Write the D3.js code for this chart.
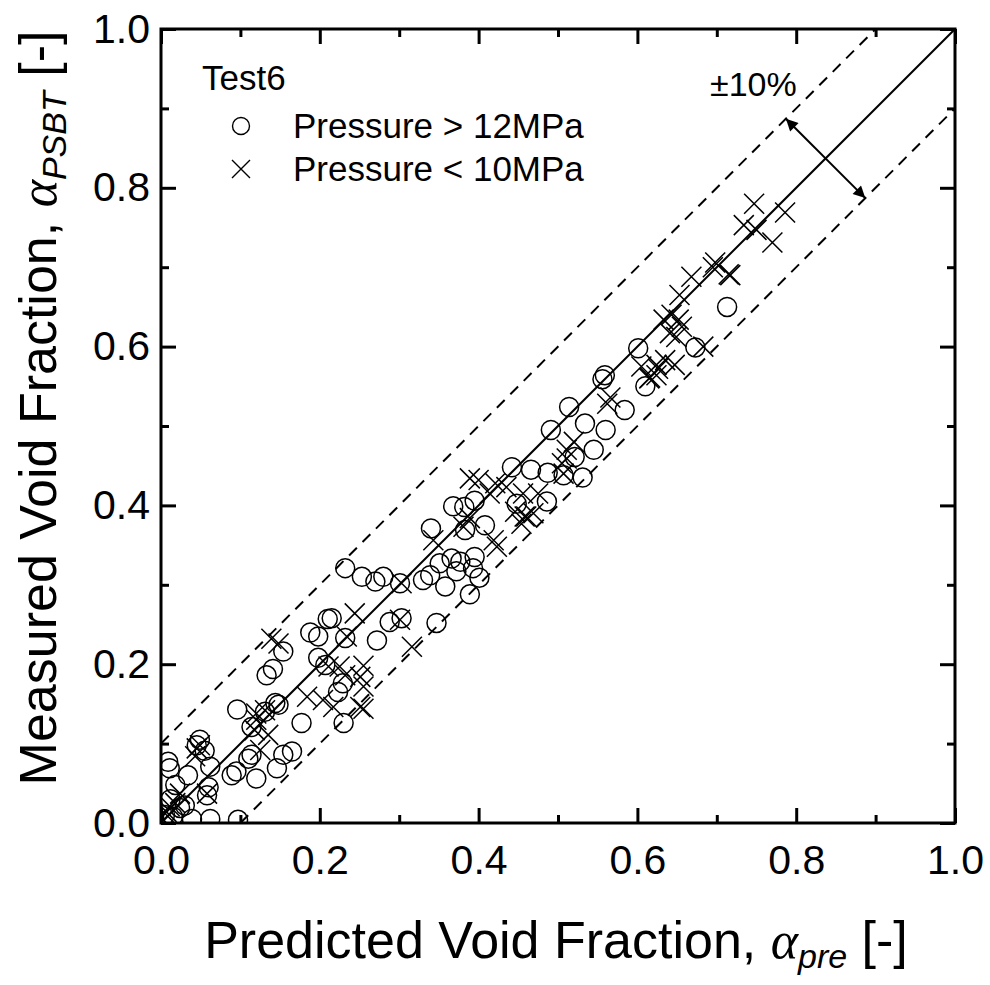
<!DOCTYPE html>
<html>
<head>
<meta charset="utf-8">
<script src="https://cdn.jsdelivr.net/npm/d3@7"></script>
<style>
  body { margin: 0; background: #fff; }
  text { font-family: Arial, "Liberation Sans", sans-serif; fill: #000; }
</style>
</head>
<body>
<div id="chart"></div>
<script>
// Test6 : [predicted, measured]
const highPressure = [
  [0.713,0.650],[0.601,0.598],[0.673,0.599],[0.559,0.564],[0.556,0.559],[0.610,0.550],
  [0.514,0.524],[0.584,0.520],[0.534,0.503],[0.491,0.495],[0.560,0.495],[0.545,0.470],
  [0.521,0.461],[0.466,0.445],[0.442,0.448],[0.487,0.441],[0.507,0.438],[0.531,0.435],
  [0.448,0.402],[0.486,0.405],[0.395,0.406],[0.368,0.399],[0.408,0.375],[0.382,0.398],
  [0.383,0.369],[0.340,0.371],[0.351,0.327],[0.366,0.333],[0.377,0.329],[0.395,0.335],
  [0.372,0.317],[0.393,0.321],[0.401,0.309],[0.358,0.298],[0.330,0.306],[0.339,0.312],
  [0.389,0.288],[0.232,0.321],[0.253,0.310],[0.270,0.304],[0.280,0.310],[0.301,0.302],
  [0.215,0.258],[0.288,0.253],[0.303,0.258],[0.347,0.252],[0.232,0.233],[0.272,0.230],
  [0.210,0.257],[0.188,0.240],[0.198,0.235],[0.154,0.216],[0.198,0.208],[0.141,0.194],
  [0.133,0.186],[0.223,0.165],[0.229,0.176],[0.207,0.199],[0.096,0.143],[0.131,0.140],
  [0.148,0.149],[0.144,0.151],[0.230,0.126],[0.177,0.126],[0.114,0.121],[0.049,0.105],
  [0.045,0.098],[0.055,0.091],[0.165,0.090],[0.154,0.086],[0.114,0.086],[0.146,0.069],
  [0.120,0.056],[0.110,0.081],[0.095,0.065],[0.089,0.060],[0.062,0.071],[0.034,0.060],
  [0.011,0.069],[0.009,0.077],[0.018,0.048],[0.060,0.045],[0.058,0.035],[0.024,0.019],
  [0.097,0.004],[0.062,0.005],[0.039,0.005],[0.012,0.030],[0.005,0.010],[0.015,0.008],
  [0.030,0.022]
];
const lowPressure = [
  [0.747,0.780],[0.786,0.769],[0.734,0.753],[0.750,0.747],[0.770,0.731],[0.698,0.706],
  [0.715,0.691],[0.668,0.688],[0.695,0.700],[0.717,0.690],[0.653,0.665],[0.643,0.640],
  [0.652,0.634],[0.656,0.625],[0.633,0.634],[0.641,0.617],[0.649,0.612],[0.635,0.583],
  [0.647,0.577],[0.624,0.577],[0.683,0.600],[0.605,0.575],[0.616,0.561],[0.626,0.572],
  [0.624,0.564],[0.615,0.560],[0.566,0.536],[0.562,0.528],[0.520,0.480],[0.511,0.470],
  [0.505,0.453],[0.511,0.459],[0.507,0.440],[0.389,0.434],[0.421,0.428],[0.414,0.415],
  [0.475,0.415],[0.469,0.390],[0.454,0.377],[0.400,0.432],[0.435,0.423],[0.456,0.415],
  [0.446,0.392],[0.458,0.386],[0.460,0.386],[0.389,0.384],[0.419,0.356],[0.423,0.348],
  [0.343,0.356],[0.381,0.373],[0.303,0.302],[0.301,0.256],[0.244,0.264],[0.234,0.235],
  [0.139,0.232],[0.148,0.226],[0.211,0.197],[0.225,0.197],[0.232,0.186],[0.255,0.198],
  [0.251,0.184],[0.255,0.172],[0.184,0.159],[0.204,0.155],[0.217,0.146],[0.255,0.144],
  [0.251,0.146],[0.120,0.138],[0.131,0.142],[0.120,0.130],[0.118,0.117],[0.135,0.111],
  [0.125,0.092],[0.316,0.222],[0.049,0.098],[0.043,0.084],[0.045,0.094],[0.058,0.037],
  [0.024,0.037],[0.018,0.025],[0.011,0.021],[0.007,0.014],[0.005,0.012],[0.003,0.004]
];
const majorTicks = [0, 0.2, 0.4, 0.6, 0.8, 1.0];
const minorTicks = [0.1, 0.3, 0.5, 0.7, 0.9];
const bandPct = 0.1;
const legendLabels = ["Pressure > 12MPa", "Pressure < 10MPa"];

const width = 990, height = 985;
const x = d3.scaleLinear().domain([0, 1]).range([161, 955]);
const y = d3.scaleLinear().domain([0, 1]).range([823, 29]);

const svg = d3.select("#chart").append("svg")
    .attr("width", width).attr("height", height)
    .attr("viewBox", [0, 0, width, height]);

svg.append("clipPath").attr("id", "plotclip")
  .append("rect")
    .attr("x", x(0)).attr("y", y(1))
    .attr("width", x(1) - x(0)).attr("height", y(0) - y(1));

const plot = svg.append("g").attr("clip-path", "url(#plotclip)");

// reference lines
const line = d3.line().x(d => x(d[0])).y(d => y(d[1]));
plot.append("path")
    .attr("d", line([[0, 0], [1, 1]]))
    .attr("stroke", "#000").attr("stroke-width", 2).attr("fill", "none");
plot.append("path")
    .attr("d", line([[0, bandPct], [1 - bandPct, 1]]))
    .attr("stroke", "#000").attr("stroke-width", 2).attr("fill", "none")
    .attr("stroke-dasharray", "11,8");
plot.append("path")
    .attr("d", line([[bandPct, 0], [1, 1 - bandPct]]))
    .attr("stroke", "#000").attr("stroke-width", 2).attr("fill", "none")
    .attr("stroke-dasharray", "11,8");

// points
plot.selectAll("circle.hp")
  .data(highPressure)
  .join("circle")
    .attr("class", "hp")
    .attr("cx", d => x(d[0]))
    .attr("cy", d => y(d[1]))
    .attr("r", 9.5)
    .attr("fill", "none")
    .attr("stroke", "#000")
    .attr("stroke-width", 1.5);

const xs = 10;
plot.selectAll("path.lp")
  .data(lowPressure)
  .join("path")
    .attr("class", "lp")
    .attr("d", d => `M${x(d[0]) - xs},${y(d[1]) - xs}L${x(d[0]) + xs},${y(d[1]) + xs}M${x(d[0]) - xs},${y(d[1]) + xs}L${x(d[0]) + xs},${y(d[1]) - xs}`)
    .attr("stroke", "#000")
    .attr("stroke-width", 1.5)
    .attr("fill", "none");

// ±10% arrow
const defs = svg.append("defs");
defs.append("marker")
    .attr("id", "ahead")
    .attr("viewBox", "0 0 10 10")
    .attr("refX", 10).attr("refY", 5)
    .attr("markerWidth", 9.5).attr("markerHeight", 6)
    .attr("markerUnits", "strokeWidth")
    .attr("orient", "auto-start-reverse")
  .append("path")
    .attr("d", "M0,0L10,5L0,10Z")
    .attr("fill", "#000");
const a0 = 0.787;
svg.append("line")
    .attr("x1", x(a0)).attr("y1", y(a0 + bandPct))
    .attr("x2", x(a0 + bandPct)).attr("y2", y(a0))
    .attr("stroke", "#000").attr("stroke-width", 2)
    .attr("marker-start", "url(#ahead)")
    .attr("marker-end", "url(#ahead)");
svg.append("text")
    .attr("x", 710).attr("y", 96)
    .attr("font-size", 34)
    .text("±10%");

// axes (inward ticks on all four sides)
const fmt = d3.format(".1f");
function noDomain(g) { g.select(".domain").remove(); }

svg.append("g")
    .attr("transform", `translate(0,${y(0)})`)
    .call(d3.axisBottom(x).tickValues(majorTicks).tickSize(-15).tickPadding(22).tickFormat(fmt))
    .call(noDomain)
    .call(g => g.selectAll("text").attr("font-size", 41).attr("font-family", "Arial, 'Liberation Sans', sans-serif"));
svg.append("g")
    .attr("transform", `translate(0,${y(0)})`)
    .call(d3.axisBottom(x).tickValues(minorTicks).tickSize(-8).tickFormat(""))
    .call(noDomain);
svg.append("g")
    .attr("transform", `translate(0,${y(1)})`)
    .call(d3.axisTop(x).tickValues(majorTicks).tickSize(-15).tickFormat(""))
    .call(noDomain);
svg.append("g")
    .attr("transform", `translate(0,${y(1)})`)
    .call(d3.axisTop(x).tickValues(minorTicks).tickSize(-8).tickFormat(""))
    .call(noDomain);

svg.append("g")
    .attr("transform", `translate(${x(0)},0)`)
    .call(d3.axisLeft(y).tickValues(majorTicks).tickSize(-15).tickPadding(11).tickFormat(fmt))
    .call(noDomain)
    .call(g => g.selectAll("text").attr("font-size", 41).attr("font-family", "Arial, 'Liberation Sans', sans-serif"));
svg.append("g")
    .attr("transform", `translate(${x(0)},0)`)
    .call(d3.axisLeft(y).tickValues(minorTicks).tickSize(-8).tickFormat(""))
    .call(noDomain);
svg.append("g")
    .attr("transform", `translate(${x(1)},0)`)
    .call(d3.axisRight(y).tickValues(majorTicks).tickSize(-15).tickFormat(""))
    .call(noDomain);
svg.append("g")
    .attr("transform", `translate(${x(1)},0)`)
    .call(d3.axisRight(y).tickValues(minorTicks).tickSize(-8).tickFormat(""))
    .call(noDomain);

svg.selectAll(".tick line").attr("stroke", "#000").attr("stroke-width", 3);

svg.append("rect")
    .attr("x", x(0)).attr("y", y(1))
    .attr("width", x(1) - x(0)).attr("height", y(0) - y(1))
    .attr("fill", "none").attr("stroke", "#000").attr("stroke-width", 3);

// axis titles
const xTitle = svg.append("text")
    .attr("x", 556).attr("y", 958)
    .attr("text-anchor", "middle")
    .attr("font-size", 52);
xTitle.append("tspan").text("Predicted Void Fraction, ");
xTitle.append("tspan").attr("font-family", "'Liberation Serif', 'Times New Roman', serif")
    .attr("font-style", "italic").text("α");
xTitle.append("tspan").attr("font-style", "italic").attr("font-size", 34)
    .attr("dy", 10).text("pre");
xTitle.append("tspan").attr("dy", -10).text(" [-]");

const yTitle = svg.append("text")
    .attr("transform", "translate(56,408) rotate(-90)")
    .attr("text-anchor", "middle")
    .attr("font-size", 52);
yTitle.append("tspan").text("Measured Void Fraction, ");
yTitle.append("tspan").attr("font-family", "'Liberation Serif', 'Times New Roman', serif")
    .attr("font-style", "italic").text("α");
yTitle.append("tspan").attr("font-style", "italic").attr("font-size", 34)
    .attr("dy", 10).text("PSBT");
yTitle.append("tspan").attr("dy", -10).text(" [-]");

// legend
const legend = svg.append("g");
legend.append("text").attr("x", 202).attr("y", 90).attr("font-size", 35).text("Test6");
legend.append("circle")
    .attr("cx", 241).attr("cy", 126).attr("r", 8.5)
    .attr("fill", "none").attr("stroke", "#000").attr("stroke-width", 1.4);
legend.append("path")
    .attr("d", `M${241 - 9},${169 - 9}L${241 + 9},${169 + 9}M${241 - 9},${169 + 9}L${241 + 9},${169 - 9}`)
    .attr("stroke", "#000").attr("stroke-width", 1.4);
legend.selectAll("text.lab")
  .data(legendLabels)
  .join("text")
    .attr("class", "lab")
    .attr("x", 293)
    .attr("y", (d, i) => 138 + i * 43)
    .attr("font-size", 35)
    .text(d => d);
</script>
</body>
</html>
